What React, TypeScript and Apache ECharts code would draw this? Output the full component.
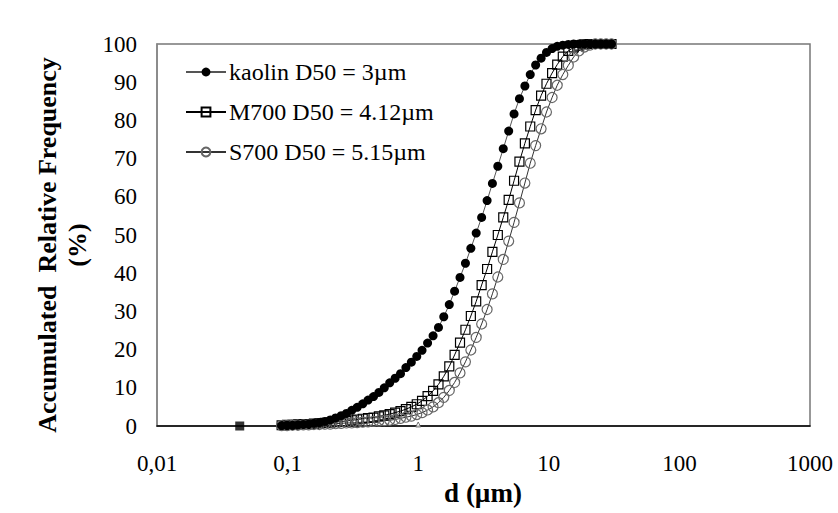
import React, { useEffect, useRef } from "react";
import * as echarts from "echarts";

// particle size grid (µm)
const sizes = [
  0.09, 0.099, 0.109, 0.12, 0.132, 0.145, 0.159, 0.175, 0.193, 0.212, 0.233, 0.257, 0.282, 0.31, 0.341,
  0.376, 0.413, 0.455, 0.5, 0.55, 0.605, 0.666, 0.732, 0.805, 0.886, 0.975, 1.07, 1.18, 1.3, 1.43, 1.57,
  1.73, 1.9, 2.09, 2.3, 2.53, 2.78, 3.06, 3.37, 3.7, 4.07, 4.48, 4.93, 5.42, 5.96, 6.56, 7.21, 7.93, 8.73,
  9.6, 10.6, 11.6, 12.8, 14.1, 15.5, 17.0, 18.7, 20.6, 22.7, 25.0, 27.5, 30.2,
];

const kaolin = [
  0.1, 0.2, 0.2, 0.3, 0.4, 0.5, 0.7, 0.9, 1.2, 1.6, 2.1, 2.7, 3.3, 4.1, 4.9, 5.8, 6.8, 7.7, 8.8, 10.0,
  11.3, 12.5, 13.7, 15.3, 16.7, 18.2, 19.8, 21.7, 23.6, 25.8, 28.6, 31.8, 35.3, 38.9, 42.6, 46.5, 50.5,
  54.6, 59.0, 63.5, 68.0, 72.6, 77.2, 81.7, 85.7, 89.0, 92.0, 94.5, 96.3, 97.8, 98.8, 99.4, 99.7, 99.9,
  100, 100, 100, 100, 100, 100, 100, 100,
];

const m700 = [
  0.2, 0.3, 0.3, 0.4, 0.5, 0.5, 0.6, 0.7, 0.8, 0.9, 1.0, 1.2, 1.3, 1.5, 1.7, 1.9, 2.1, 2.2, 2.5, 2.8,
  3.1, 3.5, 3.9, 4.4, 5.0, 5.7, 6.6, 7.8, 9.2, 10.9, 13.0, 15.6, 18.6, 21.8, 25.2, 28.8, 32.6, 36.9, 41.1,
  45.6, 50.0, 54.6, 59.2, 64.2, 69.2, 74.0, 78.4, 82.7, 86.5, 89.6, 92.4, 94.6, 96.7, 98.2, 99.1, 99.6,
  99.9, 100, 100, 100, 100, 100,
];

const s700 = [
  0.1, 0.1, 0.2, 0.2, 0.3, 0.3, 0.4, 0.4, 0.5, 0.5, 0.6, 0.7, 0.8, 0.8, 0.9, 1.0, 1.1, 1.2, 1.3, 1.4,
  1.5, 1.7, 2.0, 2.3, 2.6, 3.0, 3.5, 4.2, 5.0, 6.1, 7.5, 9.3, 11.4, 13.9, 16.8, 19.9, 23.2, 26.7, 30.5,
  34.6, 39.0, 43.6, 48.4, 53.3, 58.4, 63.6, 68.8, 73.4, 77.8, 82.2, 86.0, 89.2, 92.0, 94.4, 96.6, 98.2,
  99.2, 99.7, 100, 100, 100, 100,
];

// isolated marks near the axis
const straySquare = [[0.043, 0]];
const strayTriangle = [[1, 0.4]];

const seriesNames = ["kaolin D50 = 3µm", "M700 D50 = 4.12µm", "S700 D50 = 5.15µm"];
const yTitle = "Accumulated  Relative Frequency\n(%)";
const xTitle = "d (µm)";

const FONT = "'Liberation Serif', 'Times New Roman', serif";

const pair = (vals: number[]) => sizes.map((d, i) => [d, vals[i]]);

export default function App() {
  const ref = useRef<HTMLDivElement>(null);
  useEffect(() => {
    if (!ref.current) return;
    const chart = echarts.init(ref.current, undefined, { renderer: "svg" });
    chart.setOption({
      animation: false,
      backgroundColor: "#fff",
      grid: {
        left: 157,
        right: 28,
        top: 44,
        bottom: 87,
        show: true,
        borderColor: "#777",
        borderWidth: 1.5,
        backgroundColor: "transparent",
      },
      legend: {
        orient: "vertical",
        left: 180,
        top: 55,
        itemWidth: 40,
        itemHeight: 11,
        itemGap: 16,
        data: seriesNames,
        textStyle: { fontFamily: FONT, fontSize: 24, color: "#000", padding: [0, 0, 0, -2] },
      },
      xAxis: {
        type: "log",
        logBase: 10,
        min: 0.01,
        max: 1000,
        axisLine: { show: true, lineStyle: { color: "#000", width: 1.5 } },
        axisTick: { show: false },
        splitLine: { show: false },
        minorTick: { show: false },
        axisLabel: {
          margin: 26,
          fontFamily: FONT,
          fontSize: 23,
          color: "#000",
          formatter: (v: number) =>
            v < 1 ? String(+v.toPrecision(3)).replace(".", ",") : String(Math.round(v)),
        },
      },
      yAxis: {
        type: "value",
        min: 0,
        max: 100,
        interval: 10,
        axisLine: { show: true, lineStyle: { color: "#888", width: 1.5 } },
        axisTick: { show: false },
        splitLine: { show: false },
        axisLabel: { margin: 20, fontFamily: FONT, fontSize: 23, color: "#000" },
      },
      graphic: [
        {
          type: "text",
          x: 62,
          y: 245,
          rotation: Math.PI / 2,
          style: {
            text: yTitle,
            font: `bold 26px ${FONT}`,
            fill: "#000",
            textAlign: "center",
            textVerticalAlign: "middle",
            lineHeight: 30,
          },
        },
        {
          type: "text",
          x: 483,
          y: 493,
          style: {
            text: xTitle,
            font: `bold 27px ${FONT}`,
            fill: "#000",
            textAlign: "center",
            textVerticalAlign: "middle",
          },
        },
      ],
      series: [
        {
          name: seriesNames[1],
          type: "line",
          data: pair(m700),
          symbol: "rect",
          symbolSize: 9,
          showAllSymbol: true,
          lineStyle: { color: "#000", width: 1 },
          itemStyle: { color: "rgba(255,255,255,0)", borderColor: "#000", borderWidth: 1.2 },
          z: 2,
        },
        {
          name: seriesNames[2],
          type: "line",
          data: pair(s700),
          symbol: "circle",
          symbolSize: 10,
          showAllSymbol: true,
          lineStyle: { color: "#333", width: 1 },
          itemStyle: { color: "rgba(255,255,255,0)", borderColor: "#666", borderWidth: 1.2 },
          z: 2,
        },
        {
          name: seriesNames[0],
          type: "line",
          data: pair(kaolin),
          symbol: "circle",
          symbolSize: 9,
          showAllSymbol: true,
          lineStyle: { color: "#555", width: 1 },
          itemStyle: { color: "#000", borderColor: "#000", borderWidth: 0 },
          z: 3,
        },
        {
          name: "stray1",
          type: "scatter",
          data: straySquare,
          symbol: "rect",
          symbolSize: 9,
          itemStyle: { color: "#000" },
          z: 3,
        },
        {
          name: "stray2",
          type: "scatter",
          data: strayTriangle,
          symbol: "triangle",
          symbolSize: 5,
          itemStyle: { color: "#fff", borderColor: "#555", borderWidth: 1 },
          z: 3,
        },
      ],
    });
    return () => chart.dispose();
  }, []);
  return (
    <div
      ref={ref}
      style={{ position: "fixed", left: 0, top: 0, width: 838, height: 513, background: "#fff" }}
    />
  );
}
